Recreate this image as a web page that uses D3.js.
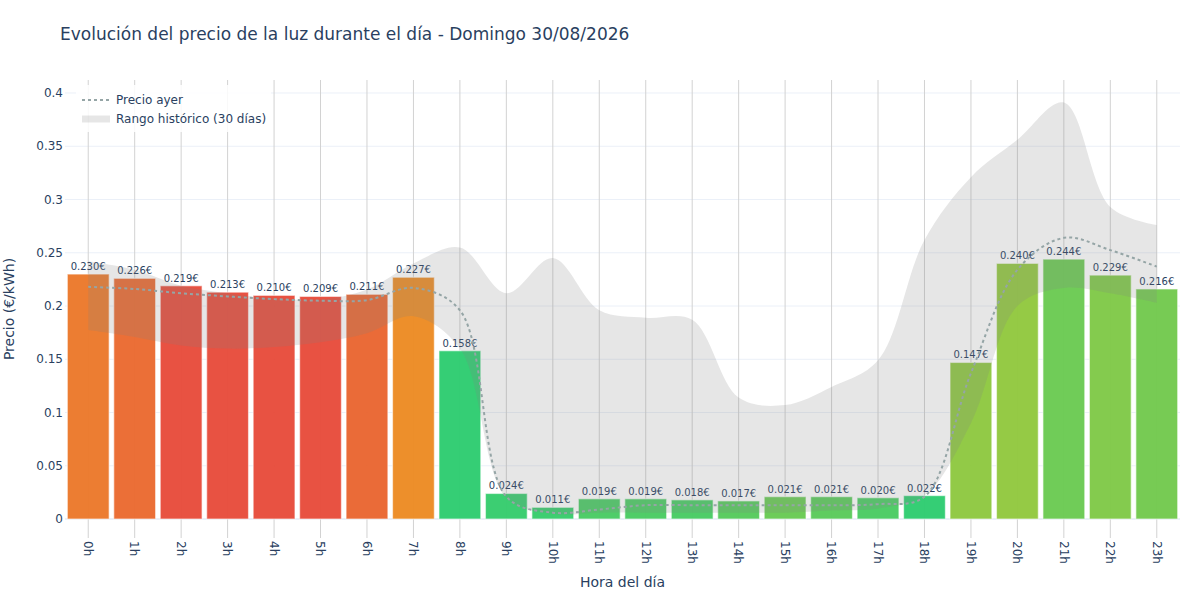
<!DOCTYPE html>
<html>
<head>
<meta charset="utf-8">
<script src="https://cdn.jsdelivr.net/npm/d3@7"></script>
<style>
  body { margin: 0; background: #fff; }
  svg { display: block; font-family: "DejaVu Sans", verdana, sans-serif; }
</style>
</head>
<body>
<svg id="chart" width="1200" height="600"></svg>
<script>
// ---- data ----
const horas = ["0h","1h","2h","3h","4h","5h","6h","7h","8h","9h","10h","11h","12h","13h","14h","15h","16h","17h","18h","19h","20h","21h","22h","23h"];
const precioHoy = [0.230,0.226,0.219,0.213,0.210,0.209,0.211,0.227,0.158,0.024,0.011,0.019,0.019,0.018,0.017,0.021,0.021,0.020,0.022,0.147,0.240,0.244,0.229,0.216];
const precioAyer = [0.218,0.216,0.212,0.209,0.2065,0.205,0.2055,0.217,0.196,0.021,0.006,0.009,0.013,0.013,0.013,0.013,0.013,0.014,0.021,0.137,0.234,0.264,0.2525,0.237];
const rangoMax = [0.242,0.234,0.219,0.212,0.207,0.206,0.2155,0.240,0.255,0.212,0.245,0.196,0.189,0.187,0.114,0.107,0.124,0.149,0.262,0.321,0.356,0.391,0.293,0.276];
const rangoMin = [0.1775,0.171,0.163,0.160,0.1615,0.166,0.1745,0.1905,0.160,0.020,0.005,0.006,0.006,0.006,0.006,0.006,0.008,0.010,0.022,0.090,0.200,0.217,0.212,0.203];
const yTicks = [0,0.05,0.1,0.15,0.2,0.25,0.3,0.35,0.4];
const titulo = "Evolución del precio de la luz durante el día - Domingo 30/08/2026";

// ---- layout ----
const svg = d3.select("#chart");
const L = 65, R = 1180, T = 80, B = 538;
const textColor = "#2a3f5f";

const x = d3.scaleBand().domain(horas).range([L, R]).paddingInner(0.1).paddingOuter(0.05);
const y = d3.scaleLinear().domain([-0.0178, 0.4122]).range([B, T]);
const cx = h => x(h) + x.bandwidth() / 2;

const color = d3.scaleLinear().domain([0, 0.5, 1]).range(["#2ecc71", "#f1c40f", "#e74c3c"]).clamp(true);
const pos = i => (precioHoy[i] - rangoMin[i]) / (rangoMax[i] - rangoMin[i]);

// horizontal grid
svg.append("g").selectAll("line").data(yTicks).join("line")
  .attr("x1", L).attr("x2", R)
  .attr("y1", d => y(d)).attr("y2", d => y(d))
  .attr("stroke", "#EBF0F8").attr("stroke-width", d => d === 0 ? 2 : 1);

// vertical grid
svg.append("g").selectAll("line").data(horas).join("line")
  .attr("x1", d => cx(d)).attr("x2", d => cx(d))
  .attr("y1", T).attr("y2", B)
  .attr("stroke", "#d2d2d2").attr("stroke-width", 1);

// bars
const bars = svg.append("g");
bars.selectAll("rect").data(horas).join("rect")
  .attr("x", d => x(d)).attr("width", x.bandwidth())
  .attr("y", (d, i) => y(precioHoy[i]))
  .attr("height", (d, i) => y(0) - y(precioHoy[i]))
  .attr("fill", (d, i) => color(pos(i)))
  .attr("fill-opacity", 0.97)
  .attr("stroke", "rgba(255,255,255,0.55)").attr("stroke-width", 1.2);

bars.selectAll("text").data(horas).join("text")
  .attr("x", d => cx(d))
  .attr("y", (d, i) => y(precioHoy[i]) - 4)
  .attr("text-anchor", "middle")
  .attr("font-size", 10)
  .attr("fill", textColor)
  .text((d, i) => precioHoy[i].toFixed(3) + "€");

// historical band
const area = d3.area()
  .x((d, i) => cx(horas[i]))
  .y0((d, i) => y(rangoMin[i]))
  .y1((d, i) => y(rangoMax[i]))
  .curve(d3.curveCatmullRom.alpha(0.5));
svg.append("path").datum(horas).attr("d", area)
  .attr("fill", "rgba(128,128,128,0.2)").attr("stroke", "none");

// yesterday line
const line = d3.line()
  .x((d, i) => cx(horas[i]))
  .y((d, i) => y(precioAyer[i]))
  .curve(d3.curveCatmullRom.alpha(0.5));
svg.append("path").datum(horas).attr("d", line)
  .attr("fill", "none").attr("stroke", "#95a5a6").attr("stroke-width", 2)
  .attr("stroke-dasharray", "3,3");

// y axis labels
svg.append("g").selectAll("text").data(yTicks).join("text")
  .attr("x", 63).attr("y", d => y(d))
  .attr("dy", "0.35em")
  .attr("text-anchor", "end")
  .attr("font-size", 12).attr("fill", textColor)
  .text(d => d3.format("~g")(d));

// x axis labels
svg.append("g").selectAll("text").data(horas).join("text")
  .attr("transform", d => `translate(${cx(d)},541) rotate(90)`)
  .attr("dy", "0.35em")
  .attr("text-anchor", "start")
  .attr("font-size", 12).attr("fill", textColor)
  .text(d => d);

// axis titles
svg.append("text").attr("x", (L + R) / 2).attr("y", 587)
  .attr("text-anchor", "middle").attr("font-size", 14).attr("fill", textColor)
  .text("Hora del día");
svg.append("text").attr("transform", `translate(14,${(T + B) / 2}) rotate(-90)`)
  .attr("text-anchor", "middle").attr("font-size", 14).attr("fill", textColor)
  .text("Precio (€/kWh)");

// title
svg.append("text").attr("x", 60).attr("y", 40)
  .attr("font-size", 17).attr("fill", textColor)
  .text(titulo);

// legend
const lg = svg.append("g");
lg.append("rect").attr("x", 76).attr("y", 85).attr("width", 195).attr("height", 47)
  .attr("fill", "rgba(255,255,255,0.85)");
lg.append("line").attr("x1", 82).attr("x2", 110).attr("y1", 100).attr("y2", 100)
  .attr("stroke", "#95a5a6").attr("stroke-width", 2).attr("stroke-dasharray", "3,3");
lg.append("line").attr("x1", 82).attr("x2", 110).attr("y1", 119).attr("y2", 119)
  .attr("stroke", "rgba(128,128,128,0.2)").attr("stroke-width", 7);
lg.append("text").attr("x", 116).attr("y", 100).attr("dy", "0.35em")
  .attr("font-size", 12).attr("fill", textColor).text("Precio ayer");
lg.append("text").attr("x", 116).attr("y", 119).attr("dy", "0.35em")
  .attr("font-size", 12).attr("fill", textColor).text("Rango histórico (30 días)");
</script>
</body>
</html>
